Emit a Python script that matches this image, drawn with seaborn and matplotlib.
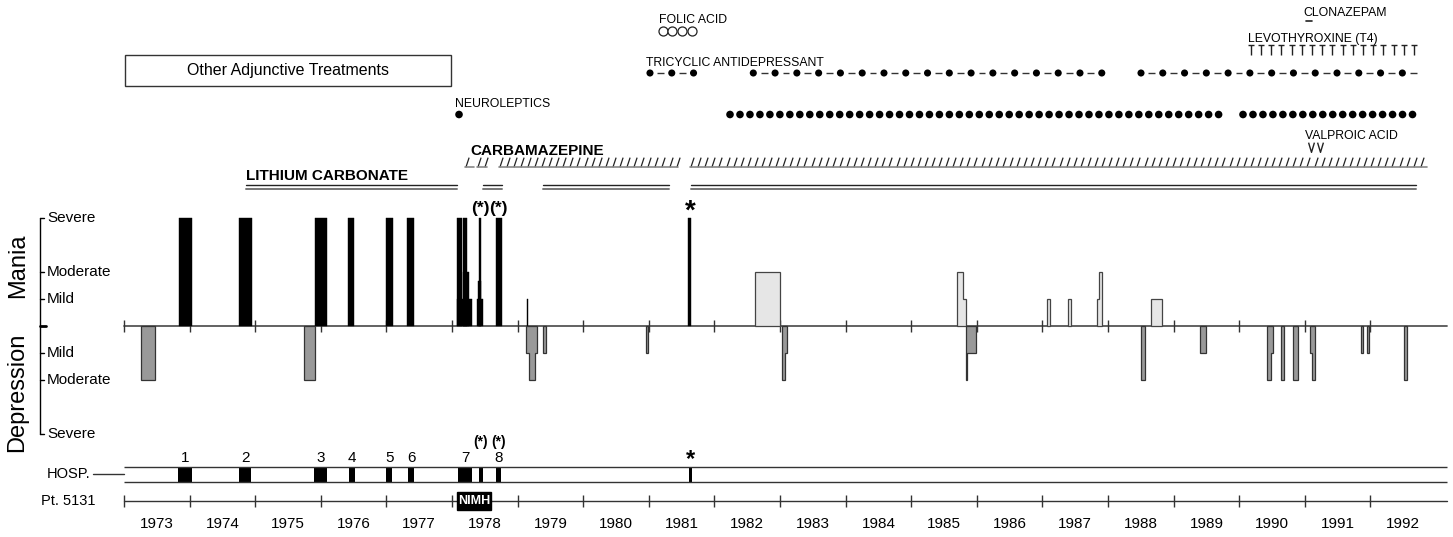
import numpy as np
import matplotlib
matplotlib.use('Agg')
import matplotlib.pyplot as plt
from matplotlib.path import Path
from matplotlib.patches import Rectangle
import seaborn as sns
import pandas as pd

sns.set_theme(style='white')
plt.rcParams['font.family'] = ['Liberation Sans', 'DejaVu Sans']
plt.rcParams['text.color'] = 'black'

# ---- dados ----
year_ticks = list(range(1973, 1993))
MILD, MOD, SEV = 1, 2, 4

# episodios maniacos (preto) ate 1981: inicio, fim, nivel
mania_black = [
    (1973.84, 1974.04, SEV), (1974.75, 1974.95, SEV), (1975.91, 1976.09, SEV),
    (1976.41, 1976.51, SEV), (1976.99, 1977.10, SEV), (1977.31, 1977.42, SEV),
    (1978.08, 1978.30, MILD), (1978.08, 1978.148, SEV),
    (1978.166, 1978.262, MOD), (1978.166, 1978.232, SEV),
    (1978.384, 1978.471, MILD), (1978.390, 1978.436, 1.65), (1978.415, 1978.436, SEV),
    (1978.666, 1978.756, SEV), (1979.140, 1979.152, MILD), (1981.601, 1981.637, SEV),
]

# episodios maniacos depois (cinza claro): bordas e niveis em degrau
mania_gray = [
    ([1982.616, 1982.995], [MOD]),
    ([1985.698, 1985.785, 1985.829], [MOD, MILD]),
    ([1987.075, 1987.112], [MILD]),
    ([1987.397, 1987.433], [MILD]),
    ([1987.835, 1987.864, 1987.901], [MILD, MOD]),
    ([1988.655, 1988.823], [MILD]),
]

# episodios depressivos
depression = [
    ([1973.264, 1973.473], [MOD]),
    ([1975.749, 1975.912], [MOD]),
    ([1979.123, 1979.178, 1979.270, 1979.300], [MILD, MOD, MILD]),
    ([1979.392, 1979.433], [MILD]),
    ([1980.953, 1980.992], [MILD]),
    ([1983.030, 1983.080, 1983.110], [MOD, MILD]),
    ([1985.829, 1985.858, 1985.991], [MOD, MILD]),
    ([1988.510, 1988.560], [MOD]),
    ([1989.400, 1989.490], [MILD]),
    ([1990.428, 1990.480, 1990.515], [MOD, MILD]),
    ([1990.642, 1990.683], [MOD]),
    ([1990.815, 1990.891], [MOD]),
    ([1991.084, 1991.105, 1991.160], [MILD, MOD]),
    ([1991.862, 1991.893], [MILD]),
    ([1991.953, 1991.984], [MILD]),
    ([1992.512, 1992.553], [MOD]),
]

# internacoes
hosp_start = [1973.829, 1974.756, 1975.902, 1976.427, 1976.995, 1977.330, 1978.096, 1978.404, 1978.672, 1981.611]
hosp_end = [1974.040, 1974.939, 1976.098, 1976.514, 1977.088, 1977.424, 1978.307, 1978.476, 1978.752, 1981.663]
hosp_num = ['1', '2', '3', '4', '5', '6', '7', '', '8', '']
hosp_mark = ['', '', '', '', '', '', '', '(*)', '(*)', '*']
nimh_period = (1978.07, 1978.60)

# medicacoes
lithium = [(1974.86, 1978.08), (1978.476, 1978.765), (1979.39, 1981.31), (1981.65, 1992.69)]
carbamazepine = [(1978.23, 1978.335), (1978.41, 1978.53), (1978.74, 1981.445), (1981.66, 1992.86)]
tricyclic = [(1981.018, 1981.69), (1982.593, 1987.909), (1988.503, 1992.756)]
neuroleptic_single = [1978.107]
neuroleptic = [(1982.238, 1989.784), (1990.058, 1992.756)]
folic_acid = (1981.21, 1981.66)
clonazepam = (1991.02, 1991.11)
levothyroxine = (1990.175, 1992.665)
valproic = [1991.09, 1991.23]

# ---- layout ----
PXY = 65.6
def px_x(px):
    return 1973 + (px - 124) / PXY

BASE, UNIT = 326, 27
AX_END = px_x(1447)
fig = plt.figure(figsize=(14.53, 5.37), dpi=100)
ax = fig.add_axes([0, 0, 1, 1])
ax.set_xlim(px_x(0), px_x(1453))
ax.set_ylim(537, 0)
ax.axis('off')

# eixo do humor
ax.plot([1973, AX_END], [BASE, BASE], color='#555555', lw=1.3, zorder=1)
ax.vlines(year_ticks, BASE - 6, BASE + 6, color='#333333', lw=1)

for s, e, lv in mania_black:
    ax.bar(s, -lv * UNIT, width=e - s, bottom=BASE, align='edge', color='black', lw=0.3, edgecolor='black', zorder=3)

def step_outline(edges, levels, sign):
    xs, ys = [edges[0]], [BASE]
    for i, lv in enumerate(levels):
        y = BASE - sign * lv * UNIT
        xs += [edges[i], edges[i + 1]]
        ys += [y, y]
    xs.append(edges[-1]); ys.append(BASE)
    return xs, ys

for edges, levels in mania_gray:
    xs, ys = step_outline(edges, levels, 1)
    ax.fill(xs, ys, facecolor='#e6e6e6', edgecolor='#444444', lw=0.9, zorder=3)
for edges, levels in depression:
    xs, ys = step_outline(edges, levels, -1)
    ax.fill(xs, ys, facecolor='#999999', edgecolor='#333333', lw=0.9, zorder=3)

# escala de gravidade
LX = px_x(40)
ax.plot([LX, LX], [BASE - 4 * UNIT, BASE + 4 * UNIT], color='black', lw=1)
sev_levels = [SEV, MOD, MILD, -MILD, -MOD, -SEV]
sev_labels = ['Severe', 'Moderate', 'Mild', 'Mild', 'Moderate', 'Severe']
for lv, lab in zip(sev_levels, sev_labels):
    y = BASE - lv * UNIT
    ax.plot([LX, px_x(44)], [y, y], color='black', lw=1)
    ax.text(px_x(47), y, lab, fontsize=11, va='center', ha='left')
ax.plot([LX, px_x(46)], [BASE, BASE], color='black', lw=2)
ax.text(px_x(18), 266, 'Mania', fontsize=17, rotation=90, ha='center', va='center')
ax.text(px_x(17), 392, 'Depression', fontsize=17, rotation=90, ha='center', va='center')

# asteriscos sobre os episodios
for s, e, m in zip(hosp_start, hosp_end, hosp_mark):
    if m == '(*)':
        ax.text((s + e) / 2, 208, m, fontsize=12.5, fontweight='bold', ha='center', va='center')
        ax.text((s + e) / 2, 442, m, fontsize=10, fontweight='bold', ha='center', va='center')
    elif m == '*':
        ax.text((s + e) / 2, 212, m, fontsize=20, fontweight='bold', ha='center', va='center')
        ax.text((s + e) / 2, 460, m, fontsize=17, fontweight='bold', ha='center', va='center')

# linha de internacoes
ax.hlines([467, 482], 1973, AX_END, color='#333333', lw=1)
ax.bar(hosp_start, 15, width=np.array(hosp_end) - np.array(hosp_start), bottom=467,
       align='edge', color='black', lw=0)
for s, e, n in zip(hosp_start, hosp_end, hosp_num):
    if n:
        ax.text((s + e) / 2, 458, n, fontsize=11, ha='center', va='center')
ax.text(px_x(90), 474, 'HOSP.', fontsize=10.5, ha='right', va='center')
ax.plot([px_x(93), 1973], [474, 474], color='#333333', lw=1)

# linha do paciente
PT_Y = 501
ax.plot([1973, AX_END], [PT_Y, PT_Y], color='#333333', lw=1)
ax.vlines(year_ticks, PT_Y - 6, PT_Y + 6, color='#333333', lw=1)
ax.add_patch(Rectangle((nimh_period[0], 492), nimh_period[1] - nimh_period[0], 18,
                       facecolor='black', edgecolor='black', zorder=4))
ax.text(sum(nimh_period) / 2, 501, 'NIMH', color='white', fontsize=9, fontweight='bold',
        ha='center', va='center', zorder=5)
ax.text(px_x(96), PT_Y, 'Pt. 5131', fontsize=10.5, ha='right', va='center')
for y in year_ticks:
    ax.text(y + 0.5, 524, str(y), fontsize=11, ha='center', va='center')

# ---- medicacoes ----
ax.add_patch(Rectangle((px_x(125), 55), px_x(451) - px_x(125), 31, facecolor='white',
                       edgecolor='#333333', lw=1))
ax.text(px_x(288), 71, 'Other Adjunctive Treatments', fontsize=11.5, ha='center', va='center')

# litio: linha dupla
ax.text(px_x(246), 176, 'LITHIUM CARBONATE', fontsize=11, fontweight='bold', ha='left', va='center')
for s, e in lithium:
    ax.plot([s, e], [185, 185], color='#222222', lw=1)
    ax.plot([s, e], [188.5, 188.5], color='#777777', lw=1.4)

# carbamazepina: tracos inclinados
slash = Path([(-0.33, -1), (0.33, 1)], [Path.MOVETO, Path.LINETO])
ax.text(px_x(470), 151, 'CARBAMAZEPINE', fontsize=11, fontweight='bold', ha='left', va='center')
for s, e in carbamazepine:
    xs = np.arange(s, e + 1e-6, 0.108)
    ax.plot(xs, np.full(len(xs), 162), ls='none', marker=slash, ms=7, mec='#222222', mew=0.9)
    ax.plot([s - 0.03, e], [167, 167], color='#888888', lw=1.2)

# antidepressivo triciclico
ax.text(px_x(646), 63, 'TRICYCLIC ANTIDEPRESSANT', fontsize=8.8, ha='left', va='center')
TSP = 0.332
for s, e in tricyclic:
    dots = np.arange(s, e + 1e-6, TSP)
    sns.scatterplot(x=dots, y=np.full(len(dots), 73), ax=ax, color='black', s=26,
                    edgecolor='none', legend=False)
    mids = dots + TSP / 2
    mids = mids[mids < e]
    ax.hlines(np.full(len(mids), 73), mids - 0.052, mids + 0.052, color='#333333', lw=1)

# neurolepticos
ax.text(px_x(455), 104, 'NEUROLEPTICS', fontsize=8.8, ha='left', va='center')
nl = list(neuroleptic_single)
for s, e in neuroleptic:
    nl += list(np.arange(s, e + 1e-6, 0.152))
neuro_df = pd.DataFrame({'t': nl, 'y': 114.5})
sns.scatterplot(data=neuro_df, x='t', y='y', ax=ax, color='black', s=30, edgecolor='none', legend=False)

# acido folico
ax.text(px_x(659), 20, 'FOLIC ACID', fontsize=8.8, ha='left', va='center')
fa = np.arange(folic_acid[0], folic_acid[1] + 1e-6, 0.148)
ax.plot(fa, np.full(len(fa), 31), ls='none', marker='o', ms=6.5, mfc='white', mec='#222222', mew=0.9)

# clonazepam
ax.text(px_x(1303), 13, 'CLONAZEPAM', fontsize=8.8, ha='left', va='center')
ax.plot(list(clonazepam), [21, 21], color='#222222', lw=1.2)

# levotiroxina
ax.text(px_x(1248), 39, 'LEVOTHYROXINE (T4)', fontsize=8.8, ha='left', va='center')
tee = Path([(-0.6, 1), (0.6, 1), (0, 1), (0, -1)], [Path.MOVETO, Path.LINETO, Path.MOVETO, Path.LINETO])
t4 = np.linspace(levothyroxine[0], levothyroxine[1], 17)
ax.plot(t4, np.full(len(t4), 50), ls='none', marker=tee, ms=6.5, mec='#222222', mew=1)

# acido valproico
ax.text(px_x(1305), 136, 'VALPROIC ACID', fontsize=8.8, ha='left', va='center')
vee = Path([(-0.6, 1), (0, -1), (0.6, 1)], [Path.MOVETO, Path.LINETO, Path.LINETO])
ax.plot(valproic, [147, 147], ls='none', marker=vee, ms=7, mfc='none', mec='#222222', mew=1)

fig.savefig('out.png', dpi=100)
